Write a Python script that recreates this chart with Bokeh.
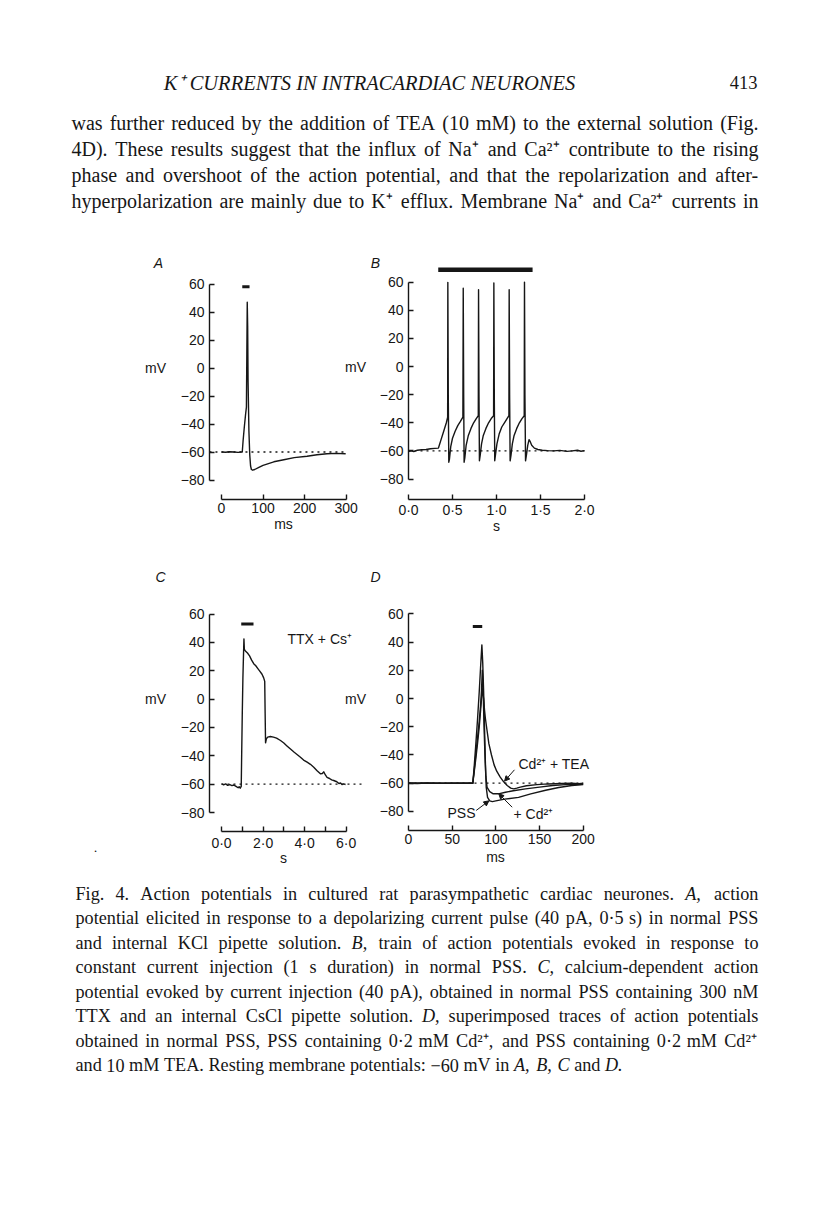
from bokeh.plotting import figure
from bokeh.layouts import column, row
from bokeh.models import Range1d, FixedTicker, Arrow, NormalHead
from bokeh.core.properties import value
from bokeh.embed import file_html
from bokeh.resources import INLINE

# ---------------- data ----------------
y_ticks = [-80, -60, -40, -20, 0, 20, 40, 60]
y_tick_labels = ["\u221280", "\u221260", "\u221240", "\u221220", "0", "20", "40", "60"]

# Panel A (ms, mV)
a_t = [0, 10, 20, 30, 40, 48, 50, 52, 55, 58, 60, 61, 62, 63, 64, 66, 68, 70, 72, 75,
       80, 90, 100, 126, 150, 175, 206, 230, 254, 275, 299]
a_v = [-60, -60.2, -59.8, -60, -60.3, -60, -60, -52, -42, -33, -28, 10, 47, 30, -10, -45,
       -62, -70, -72.5, -73, -72.5, -71, -69.5, -67, -65.5, -64, -63, -62, -61.2, -61, -61.3]
a_ticks = [0, 100, 200, 300]
a_tick_labels = ["0", "100", "200", "300"]
a_stim_t = [50, 67.5]
a_stim_v = [58, 58]
a_rest_t = [-29, 300]

# Panel B (s, mV)
b_t = [0.00, 0.03, 0.06, 0.10, 0.15, 0.20, 0.25, 0.30, 0.34, 0.35, 0.37, 0.40, 0.43, 0.445,
       0.447, 0.452, 0.458, 0.465, 0.48, 0.50, 0.53, 0.56, 0.59, 0.618,
       0.622, 0.627, 0.632, 0.64, 0.655, 0.68, 0.71, 0.74, 0.77, 0.793,
       0.796, 0.801, 0.806, 0.815, 0.83, 0.85, 0.88, 0.91, 0.94, 0.967,
       0.970, 0.975, 0.980, 0.99, 1.005, 1.03, 1.06, 1.09, 1.12, 1.141,
       1.144, 1.149, 1.155, 1.165, 1.18, 1.20, 1.23, 1.26, 1.29, 1.315,
       1.318, 1.323, 1.330, 1.34, 1.355, 1.37, 1.38, 1.40, 1.43, 1.47, 1.52, 1.58,
       1.65, 1.72, 1.80, 1.86, 1.92, 1.96, 2.00]
b_v = [-60.5, -60, -60.5, -59.5, -59.2, -59, -58.5, -58.2, -58, -56, -52, -46, -40, -36,
       59.8, -20, -68, -66, -57, -51, -46, -42, -39, -36,
       55.6, -20, -68, -65, -56, -49, -44, -40, -37, -35,
       54.6, -20, -67, -63, -55, -49, -44, -40, -37, -35,
       59.3, -20, -67, -62, -55, -48, -43, -40, -37, -35,
       54.6, -20, -67, -63, -55, -49, -44, -40, -37, -35,
       60.0, -20, -67, -63, -56, -52, -53, -56, -58, -59, -59.5, -59.8,
       -60, -59.6, -60.3, -60, -59.5, -60.2, -59.8]
b_ticks = [0, 0.5, 1.0, 1.5, 2.0]
b_tick_labels = ["0\u00b70", "0\u00b75", "1\u00b70", "1\u00b75", "2\u00b70"]
b_stim_t = [0.338, 1.41]
b_stim_v = [68.7, 68.7]
b_rest_t = [0, 2.0]

# Panel C (s, mV)
c_t = [0.00, 0.10, 0.20, 0.30, 0.40, 0.50, 0.60, 0.70, 0.80, 0.85, 0.90, 0.95, 0.97, 1.00,
       1.03, 1.06, 1.08, 1.10, 1.15, 1.25, 1.35, 1.45, 1.55, 1.65, 1.75, 1.85, 1.95, 2.03,
       2.08, 2.10, 2.12, 2.16, 2.22, 2.35, 2.50, 2.65, 2.84, 3.00, 3.15, 3.32, 3.50, 3.65,
       3.80, 3.95, 4.12, 4.28, 4.44, 4.60, 4.76, 4.85, 4.92, 5.00, 5.08, 5.20, 5.30, 5.40,
       5.55, 5.65, 5.73, 5.80, 5.88, 5.97]
c_v = [-59.7, -60.5, -59.8, -60.8, -60.3, -61, -60.6, -61.5, -62.5, -61.8, -62.8, -61.5, -40, -10,
       15, 32, 42.5, 35, 34, 32.5, 30.5, 27.5, 25, 23.5, 21.5, 19.5, 17.5, 15,
       12.5, -10, -30.8, -28, -26.8, -26.4, -26.8, -27.5, -29.2, -31, -33, -35.2, -37.5, -39.2,
       -41, -43, -44.5, -46, -48, -50.5, -52.7, -52.5, -51.3, -53.5, -55.2, -56, -57, -57.4,
       -58.3, -59.5, -59.2, -60.3, -59.8, -60.2]
c_ticks = [0, 2, 4, 6]
c_minor = [1, 3, 5]
c_tick_labels = ["0\u00b70", "2\u00b70", "4\u00b70", "6\u00b70"]
c_stim_t = [0.95, 1.54]
c_stim_v = [53, 53]
c_rest_t = [0, 6.8]

# Panel D (ms, mV)
d_pss_t = [0, 10, 20, 30, 40, 50, 60, 70, 73.6, 75, 77, 79, 81, 82.5, 84, 85, 86, 87, 88, 89,
           90.5, 93, 96, 100, 110, 126, 140, 157, 172, 187, 200]
d_pss_v = [-60, -60.2, -59.8, -60, -60.1, -59.9, -60, -60, -60, -50, -33, -15, 5, 22, 38, 25, 5,
           -20, -45, -63, -70, -72.5, -73, -72.5, -71.3, -70, -67.5, -65, -63, -61.6, -61]
d_cd_t = [0, 20, 40, 60, 73.6, 75, 77, 79, 81, 82.5, 83.5, 84.5, 85.5, 86.5, 87.5, 88.5, 90, 93,
          97, 103, 111, 120, 134, 150, 165, 180, 200]
d_cd_v = [-60, -60, -60, -60, -60, -52, -40, -28, -16, -5, 5, 20, 5, -20, -40, -55, -63, -66,
          -67.5, -67.5, -66.4, -65.3, -64, -62.8, -61.6, -61, -60.8]
d_tea_t = [0, 20, 40, 60, 73.6, 75, 77, 79, 81, 83, 84.5, 86, 87, 88, 90, 92, 95, 98, 101, 105,
           109, 113, 117, 120.6, 124, 128, 135, 147, 160, 175, 187, 195, 200]
d_tea_v = [-60, -60, -60, -60, -60, -53, -43, -32, -20, -5, 7, 0, -8, -14, -23, -32, -40, -47,
           -51.5, -55.7, -59, -61.6, -63.5, -64, -63.5, -62.8, -61.8, -61, -60.5, -60.2, -60,
           -60.3, -60]
d_ticks = [0, 50, 100, 150, 200]
d_tick_labels = ["0", "50", "100", "150", "200"]
d_stim_t = [73.6, 84.4]
d_stim_v = [51, 51]
d_rest_t = [0, 200]
d_labels = ["Cd\u00b2\u207a + TEA", "PSS", "+ Cd\u00b2\u207a"]

header_title = "K\u207a CURRENTS IN INTRACARDIAC NEURONES"
page_number = "413"
paragraph = [
    "was further reduced by the addition of TEA (10 mM) to the external solution (Fig.",
    "4D). These results suggest that the influx of Na\u207a and Ca\u00b2\u207a contribute to the rising",
    "phase and overshoot of the action potential, and that the repolarization and after-",
    "hyperpolarization are mainly due to K\u207a efflux. Membrane Na\u207a and Ca\u00b2\u207a currents in",
]
# words starting with * are set in italic
caption = [
    "Fig. 4. Action potentials in cultured rat parasympathetic cardiac neurones. *A, action",
    "potential elicited in response to a depolarizing current pulse (40 pA, 0\u00b75 s) in normal PSS",
    "and internal KCl pipette solution. *B, train of action potentials evoked in response to",
    "constant current injection (1 s duration) in normal PSS. *C, calcium-dependent action",
    "potential evoked by current injection (40 pA), obtained in normal PSS containing 300 nM",
    "TTX and an internal CsCl pipette solution. *D, superimposed traces of action potentials",
    "obtained in normal PSS, PSS containing 0\u00b72 mM Cd\u00b2\u207a, and PSS containing 0\u00b72 mM Cd\u00b2\u207a",
    "and 10 mM TEA. Resting membrane potentials: \u221260 mV in *A, *B, *C and *D.",
]

# ---------------- styling ----------------
SANS = "Liberation Sans"
SERIF = "Liberation Serif"
INK = "#161616"
TICK_FS = "14px"

# approximate advance widths of the serif face (units per 1000 em)
TW = dict(zip("abcdefghijklmnopqrstuvwxyz",
              [444, 500, 444, 500, 444, 333, 500, 500, 278, 278, 500, 278, 778, 500, 500, 500,
               500, 333, 389, 278, 500, 500, 722, 500, 500, 444]))
TW.update(dict(zip("ABCDEFGHIJKLMNOPQRSTUVWXYZ",
                   [722, 667, 667, 722, 611, 556, 722, 722, 333, 389, 722, 611, 889, 722, 722,
                    556, 722, 667, 556, 611, 722, 722, 944, 722, 722, 611])))
TW.update({c: 500 for c in "0123456789"})
TW.update({".": 250, ",": 250, "(": 333, ")": 333, "-": 333, ":": 278, "\u00b7": 250,
           "\u00b2": 300, "\u207a": 420, "\u2212": 564, "+": 564})


def word_width(s, size):
    return sum(TW.get(c, 500) for c in s) * size / 1000.0


def overrides(ticks, labels):
    d = {}
    for t, l in zip(ticks, labels):
        d[float(t)] = l
        d[format(t, "g")] = l
    return d


def txt(p, x, y, s, size=TICK_FS, font=SANS, style="normal", align="center"):
    p.text(x=[x], y=[y], text=[s], text_font=value(font), text_font_size=value(size),
           text_font_style=style, text_align=align, text_baseline="middle", text_color=INK)


def justified(f, lines, x0, x1, y0, dy, size, last_natural=True):
    cols = {"normal": ([], [], []), "italic": ([], [], [])}
    for i, line in enumerate(lines):
        words = line.split(" ")
        clean = [w.lstrip("*") for w in words]
        widths = [word_width(w, size) for w in clean]
        if last_natural and i == len(lines) - 1:
            gap = 0.25 * size
        else:
            gap = (x1 - x0 - sum(widths)) / max(len(words) - 1, 1)
        x = x0
        for w, c, wd in zip(words, clean, widths):
            st = "italic" if w.startswith("*") else "normal"
            cols[st][0].append(x)
            cols[st][1].append(y0 + dy * i)
            cols[st][2].append(c)
            x += wd + gap
    for st, (xs, ys, ts) in cols.items():
        if xs:
            f.text(x=xs, y=ys, text=ts, text_font=value(SERIF), text_font_size=value("%.1fpx" % size),
                   text_font_style=st, text_align="left", text_baseline="middle", text_color=INK)


def panel(box, cal, axis_px, xticks, xlabels, xminor=()):
    X0, Y0, X1, Y1 = box
    px0, sx, py0, sy = cal
    dx = lambda xp: (xp - px0) / sx
    dy = lambda yp: (py0 - yp) / sy
    p = figure(width=X1 - X0, height=Y1 - Y0,
               x_range=Range1d(dx(X0), dx(X1)), y_range=Range1d(dy(Y1), dy(Y0)),
               min_border=0, toolbar_location=None, output_backend="svg")
    p.outline_line_color = None
    p.background_fill_color = "white"
    p.border_fill_color = "white"
    p.grid.visible = False
    xa, ya = p.xaxis[0], p.yaxis[0]
    xa.fixed_location = dy(axis_px[1])
    ya.fixed_location = dx(axis_px[0])
    xa.ticker = FixedTicker(ticks=list(xticks), minor_ticks=list(xminor))
    xa.major_label_overrides = overrides(xticks, xlabels)
    xa.bounds = (xticks[0], xticks[-1])
    ya.ticker = FixedTicker(ticks=y_ticks)
    ya.major_label_overrides = overrides(y_ticks, y_tick_labels)
    ya.bounds = (y_ticks[0], y_ticks[-1])
    for ax in (xa, ya):
        ax.axis_line_width = 1.4
        ax.axis_line_color = INK
        ax.major_tick_in = 5
        ax.major_tick_out = 0
        ax.major_tick_line_width = 1.4
        ax.major_tick_line_color = INK
        ax.minor_tick_in = 5
        ax.minor_tick_out = 0
        ax.minor_tick_line_width = 1.4
        ax.minor_tick_line_color = INK
        ax.major_label_text_font = SANS
        ax.major_label_text_font_size = TICK_FS
        ax.major_label_text_color = INK
    ya.minor_tick_line_color = None
    xa.major_label_standoff = 3
    ya.major_label_standoff = 5
    return p, dx, dy


def trace(p, t, v, w=1.4):
    p.line(t, v, line_color=INK, line_width=w, line_join="round")


def rest(p, t):
    p.line(t, [-60] * len(t), line_color=INK, line_width=1.3, line_dash="2 4")


def stim(p, t, v, w):
    p.line(t, v, line_color=INK, line_width=w, line_cap="butt")


SPLIT = 368  # page x where the left and right columns of panels meet

# ---------------- panel A ----------------
pA, dxA, dyA = panel((0, 240, SPLIT, 555), (221, 0.4153, 367.5, 1.4), (209, 499), a_ticks, a_tick_labels)
rest(pA, a_rest_t)
trace(pA, a_t, a_v)
stim(pA, a_stim_t, a_stim_v, 3)
txt(pA, dxA(158), dyA(262), "A", size="14px", style="italic")
txt(pA, dxA(155), dyA(367.5), "mV")
txt(pA, dxA(283), dyA(523), "ms")
txt(pA, dxA(355), dyA(366), "mV")   # y-axis title of panel B

# ---------------- panel B ----------------
pB, dxB, dyB = panel((SPLIT, 240, 800, 555), (408, 88.0, 366.0, 1.407), (408, 498.5), b_ticks, b_tick_labels)
rest(pB, b_rest_t)
trace(pB, b_t, b_v)
stim(pB, b_stim_t, b_stim_v, 4.5)
txt(pB, dxB(375), dyB(262), "B", size="14px", style="italic")
txt(pB, dxB(496), dyB(525), "s")

# ---------------- panel C ----------------
pC, dxC, dyC = panel((0, 555, SPLIT, 870), (221, 20.78, 698.6, 1.418), (209, 831), c_ticks, c_tick_labels, c_minor)
rest(pC, c_rest_t)
trace(pC, c_t, c_v)
stim(pC, c_stim_t, c_stim_v, 3)
txt(pC, dxC(160), dyC(576), "C", size="14px", style="italic")
txt(pC, dxC(155), dyC(698.6), "mV")
txt(pC, dxC(283), dyC(857), "s")
txt(pC, dxC(287), dyC(638), "TTX + Cs\u207a", align="left")
txt(pC, dxC(95), dyC(850), "\u2022", size="6px")
txt(pC, dxC(355), dyC(698), "mV")   # y-axis title of panel D

# ---------------- panel D ----------------
pD, dxD, dyD = panel((SPLIT, 555, 800, 870), (408, 0.8735, 698.0, 1.412), (408, 830), d_ticks, d_tick_labels)
rest(pD, d_rest_t)
trace(pD, d_pss_t, d_pss_v)
trace(pD, d_cd_t, d_cd_v)
trace(pD, d_tea_t, d_tea_v)
stim(pD, d_stim_t, d_stim_v, 3)
txt(pD, dxD(375), dyD(576), "D", size="14px", style="italic")
txt(pD, dxD(495), dyD(856), "ms")
txt(pD, dxD(518), dyD(763), d_labels[0], align="left")
txt(pD, dxD(475), dyD(812), d_labels[1], align="right")
txt(pD, dxD(513), dyD(813), d_labels[2], align="left")
d_arrows = [((121.3, -50.5), (110.0, -58.5)),
            ((77.5, -79.3), (92.0, -72.5)),
            ((118.7, -77.0), (103.4, -67.5))]
for (x0, y0), (x1, y1) in d_arrows:
    pD.add_layout(Arrow(end=NormalHead(size=5, fill_color=INK, line_color=INK),
                        x_start=x0, y_start=y0, x_end=x1, y_end=y1,
                        line_color=INK, line_width=1))


# ---------------- page text ----------------
def text_fig(y0, y1):
    f = figure(width=800, height=y1 - y0, x_range=Range1d(0, 800), y_range=Range1d(y1, y0),
               min_border=0, toolbar_location=None, output_backend="svg",
               x_axis_location=None, y_axis_location=None)
    f.grid.visible = False
    f.outline_line_color = None
    f.background_fill_color = "white"
    f.border_fill_color = "white"
    return f


top = text_fig(0, 240)
txt(top, 369, 82, header_title, size="20.5px", font=SERIF, style="italic")
txt(top, 757, 82, page_number, size="18.5px", font=SERIF, align="right")
justified(top, paragraph, 71, 758, 122, 26, 20.0, last_natural=False)

bottom = text_fig(870, 1192)
justified(bottom, caption, 75, 758, 893, 24.5, 18.2, last_natural=True)

layout = column(top, row(pA, pB), row(pC, pD), bottom)
open("out.html", "w").write(file_html(layout, INLINE))
